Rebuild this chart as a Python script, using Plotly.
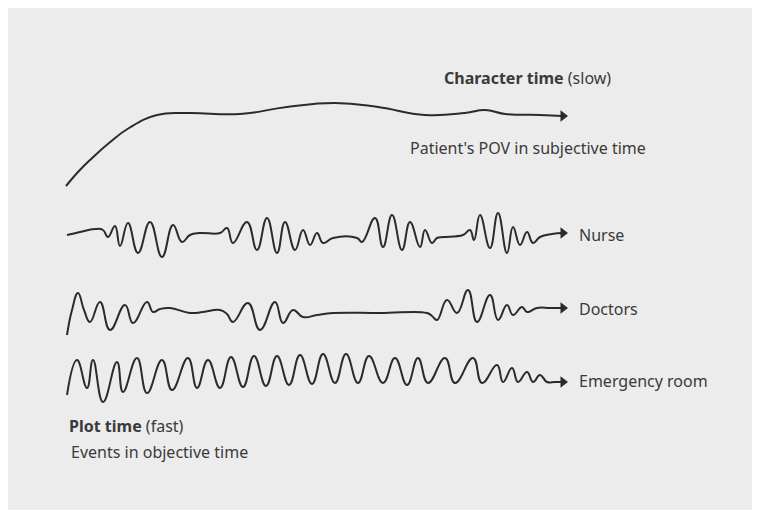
import plotly.graph_objects as go

# Curves (x, y), in the picture's own pixel units
char_x = [66, 78, 90, 109, 129, 157, 188, 240, 287, 335, 378, 425, 465, 485, 505, 540, 563]
char_y = [186, 172, 160, 143, 128, 115, 113, 114, 107, 103, 107, 115, 113, 110, 114, 115, 116]

nurse_x = [67, 80, 95, 103, 108, 115, 120, 128, 138, 150, 162, 173, 182, 190, 200, 220, 227, 233, 247, 257, 267, 277, 285, 295, 303, 310, 317, 323, 333, 357, 362, 375, 383, 392, 402, 410, 420, 425, 432, 437, 443, 463, 470, 474, 480, 490, 498, 507, 513, 520, 527, 533, 540, 552, 563]
nurse_y = [235, 232, 229, 230, 237, 226, 246, 223, 253, 222, 257, 225, 242, 235, 233, 233, 228, 243, 222, 250, 218, 253, 222, 250, 230, 245, 233, 243, 238, 238, 242, 218, 247, 215, 250, 222, 247, 230, 243, 238, 237, 235, 230, 240, 215, 248, 213, 253, 227, 245, 232, 243, 237, 234, 233]

doc_x = [67, 72, 78, 84, 90, 100, 110, 125, 133, 147, 153, 160, 170, 190, 203, 220, 227, 233, 248, 260, 275, 283, 293, 303, 317, 333, 380, 427, 432, 437, 447, 457, 468, 477, 490, 498, 507, 513, 522, 527, 537, 550, 563]
doc_y = [335, 310, 293, 310, 322, 302, 330, 305, 323, 302, 312, 309, 308, 313, 312, 310, 314, 322, 303, 330, 302, 323, 310, 317, 315, 313, 313, 313, 316, 320, 300, 313, 290, 322, 295, 320, 305, 315, 307, 312, 308, 308, 308]

er_x = [67, 77, 87, 93, 103, 117, 123, 137, 147, 162, 172, 188, 197, 208, 220, 231, 243, 254, 266, 277, 289, 300, 312, 323, 335, 346, 358, 369, 383, 395, 407, 418, 428, 445, 455, 473, 482, 497, 503, 512, 518, 527, 533, 540, 547, 555, 563]
er_y = [395, 360, 388, 360, 402, 362, 392, 358, 393, 360, 390, 358, 388, 360, 388, 357, 387, 356, 386, 356, 385, 355, 384, 354, 383, 354, 383, 356, 383, 358, 385, 358, 383, 358, 383, 358, 383, 365, 382, 368, 382, 372, 382, 375, 382, 382, 382]

series = [(char_x, char_y), (nurse_x, nurse_y), (doc_x, doc_y), (er_x, er_y)]

labels = [
    ("<b>Character time</b> (slow)", 442, 78),
    ("Patient's POV in subjective time", 408, 148),
    ("Nurse", 577, 235),
    ("Doctors", 577, 309),
    ("Emergency room", 577, 381),
    ("<b>Plot time</b> (fast)", 67, 426),
    ("Events in objective time", 69, 452),
]

INK = "#2b2b2b"
fig = go.Figure()
for xs, ys in series:
    fig.add_trace(go.Scatter(x=xs, y=ys, mode="lines",
                             line=dict(color=INK, width=2, shape="spline", smoothing=1.3),
                             hoverinfo="skip", showlegend=False))
    fig.add_trace(go.Scatter(x=[xs[-1]], y=[ys[-1]], mode="markers",
                             marker=dict(symbol="triangle-right", size=10, color=INK),
                             hoverinfo="skip", showlegend=False))

for text, x, y in labels:
    fig.add_annotation(x=x, y=y, text=text, showarrow=False, xanchor="left", yanchor="middle",
                       font=dict(family="Noto Sans", size=16, color="#3a3a3a"))

fig.update_layout(
    width=752, height=511,
    margin=dict(l=0, r=8, t=0, b=9),
    paper_bgcolor="white", plot_bgcolor="#ececec",
    xaxis=dict(range=[8, 752], visible=False, fixedrange=True),
    yaxis=dict(range=[510, 8], visible=False, fixedrange=True),
)
fig.write_html("out.html")
